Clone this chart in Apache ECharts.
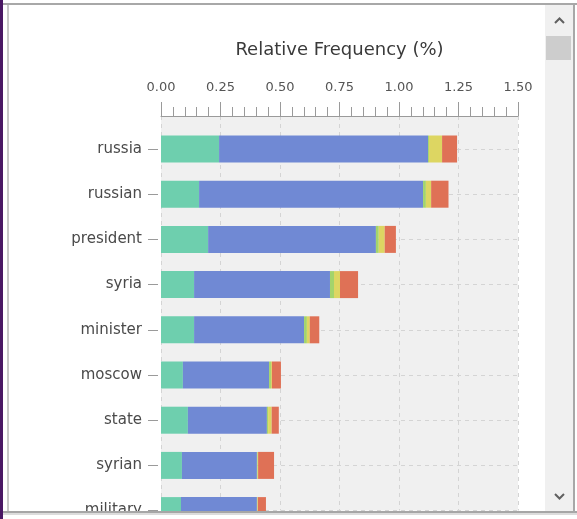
<!DOCTYPE html>
<html>
<head>
<meta charset="utf-8">
<script src="https://cdn.jsdelivr.net/npm/echarts@6/dist/echarts.min.js"></script>
<style>
html,body{margin:0;padding:0;background:#fff;}
#chart{width:577px;height:519px;}
</style>
</head>
<body>
<div id="chart"></div>
<script>
// Data
const categories = ['russia','russian','president','syria','minister','moscow','state','syrian','military'];
const tealVals   = [0.244,0.160,0.198,0.139,0.139,0.092,0.113,0.088,0.084];
const blueVals   = [0.878,0.941,0.705,0.571,0.462,0.362,0.332,0.315,0.319];
const greenVals  = [0.004,0.012,0.012,0.017,0.012,0.008,0.005,0.003,0.002];
const yellowVals = [0.055,0.022,0.025,0.025,0.012,0.004,0.015,0.002,0.002];
const orangeVals = [0.063,0.073,0.047,0.076,0.040,0.038,0.030,0.067,0.034];
const xTicks = [0, 0.25, 0.5, 0.75, 1.0, 1.25, 1.5];
const axisTitle = 'Relative Frequency (%)';

const FONT = 'DejaVu Sans';
const chart = echarts.init(document.getElementById('chart'), null, {renderer:'canvas'});

const dash = {type:[4,4], color:'#d4d4d4', width:1};
const seriesDefs = [
  {name:'a', data:tealVals,   color:'#6ecfae'},
  {name:'b', data:blueVals,   color:'#7089d4'},
  {name:'c', data:greenVals,  color:'#a3d46c'},
  {name:'d', data:yellowVals, color:'#ddd662'},
  {name:'e', data:orangeVals, color:'#df7156'}
];

const option = {
  backgroundColor:'#ffffff',
  animation:false,
  textStyle:{fontFamily:FONT},
  grid:[
    {left:161, right:59, top:116, height:33, show:true, backgroundColor:'#f0f0f0', borderWidth:0},
    {left:161, right:59, top:149, height:361.6, show:true, backgroundColor:'#f0f0f0', borderWidth:0}
  ],
  xAxis:[
    {
      gridIndex:0, type:'value', position:'top',
      min:xTicks[0], max:xTicks[xTicks.length-1], interval:0.25,
      name:axisTitle, nameLocation:'middle', nameGap:57,
      nameTextStyle:{fontFamily:FONT, fontSize:18, color:'#3a3a3a'},
      axisLine:{show:true, onZero:false, lineStyle:{color:'#9a9a9a', width:1}},
      axisTick:{show:true, length:14, lineStyle:{color:'#9a9a9a'}},
      minorTick:{show:true, splitNumber:5, length:9, lineStyle:{color:'#9a9a9a'}},
      axisLabel:{fontFamily:FONT, fontSize:13, color:'#555', margin:22,
        formatter:v => v.toFixed(2)},
      splitLine:{show:true, lineStyle:dash}
    },
    {
      gridIndex:1, type:'value',
      min:xTicks[0], max:xTicks[xTicks.length-1], interval:0.25,
      axisLine:{show:false, onZero:false}, axisTick:{show:false}, axisLabel:{show:false},
      splitLine:{show:true, lineStyle:dash}
    }
  ],
  yAxis:[
    {gridIndex:0, type:'value', show:false, min:0, max:1},
    {
      gridIndex:1, type:'category', data:categories, inverse:true, boundaryGap:false,
      offset:3,
      axisLine:{show:false, onZero:false},
      axisTick:{show:true, length:10, interval:0, lineStyle:{color:'#9a9a9a'}},
      axisLabel:{interval:0, margin:16, fontFamily:FONT, fontSize:15, color:'#4a4a4a'},
      splitLine:{show:true, interval:0, lineStyle:dash}
    }
  ],
  series: seriesDefs.map(s => ({
    type:'bar', name:s.name, stack:'total',
    xAxisIndex:1, yAxisIndex:1,
    data:s.data, barWidth:27, clip:false,
    itemStyle:{color:s.color}
  })),
  graphic:[
    {type:'rect', z:100, shape:{x:0, y:511, width:577, height:8}, style:{fill:'#ffffff'}},
    {type:'rect', z:101, shape:{x:3, y:511, width:574, height:2}, style:{fill:'#a6a6a6'}},
    {type:'rect', z:101, shape:{x:3, y:513, width:574, height:2}, style:{fill:'#dcdcdc'}},
    {type:'rect', z:102, shape:{x:0, y:0, width:3, height:519}, style:{fill:'#4a1864'}},
    {type:'rect', z:101, shape:{x:3, y:3, width:574, height:2}, style:{fill:'#a8a8a8'}},
    {type:'rect', z:101, shape:{x:7, y:5, width:2, height:506}, style:{fill:'#c8c8c8'}},
    {type:'rect', z:101, shape:{x:545, y:5, width:28, height:506}, style:{fill:'#f0f0f0'}},
    {type:'rect', z:102, shape:{x:546, y:36, width:25, height:24}, style:{fill:'#cdcdcd'}},
    {type:'rect', z:101, shape:{x:573, y:3, width:2, height:510}, style:{fill:'#a8a8a8'}},
    {type:'polyline', z:103, shape:{points:[[555,23],[559.5,18.5],[564,23]]}, style:{stroke:'#606060', lineWidth:2, fill:null}},
    {type:'polyline', z:103, shape:{points:[[555,494],[559.5,498.5],[564,494]]}, style:{stroke:'#606060', lineWidth:2, fill:null}}
  ]
};
chart.setOption(option);
</script>
</body>
</html>
